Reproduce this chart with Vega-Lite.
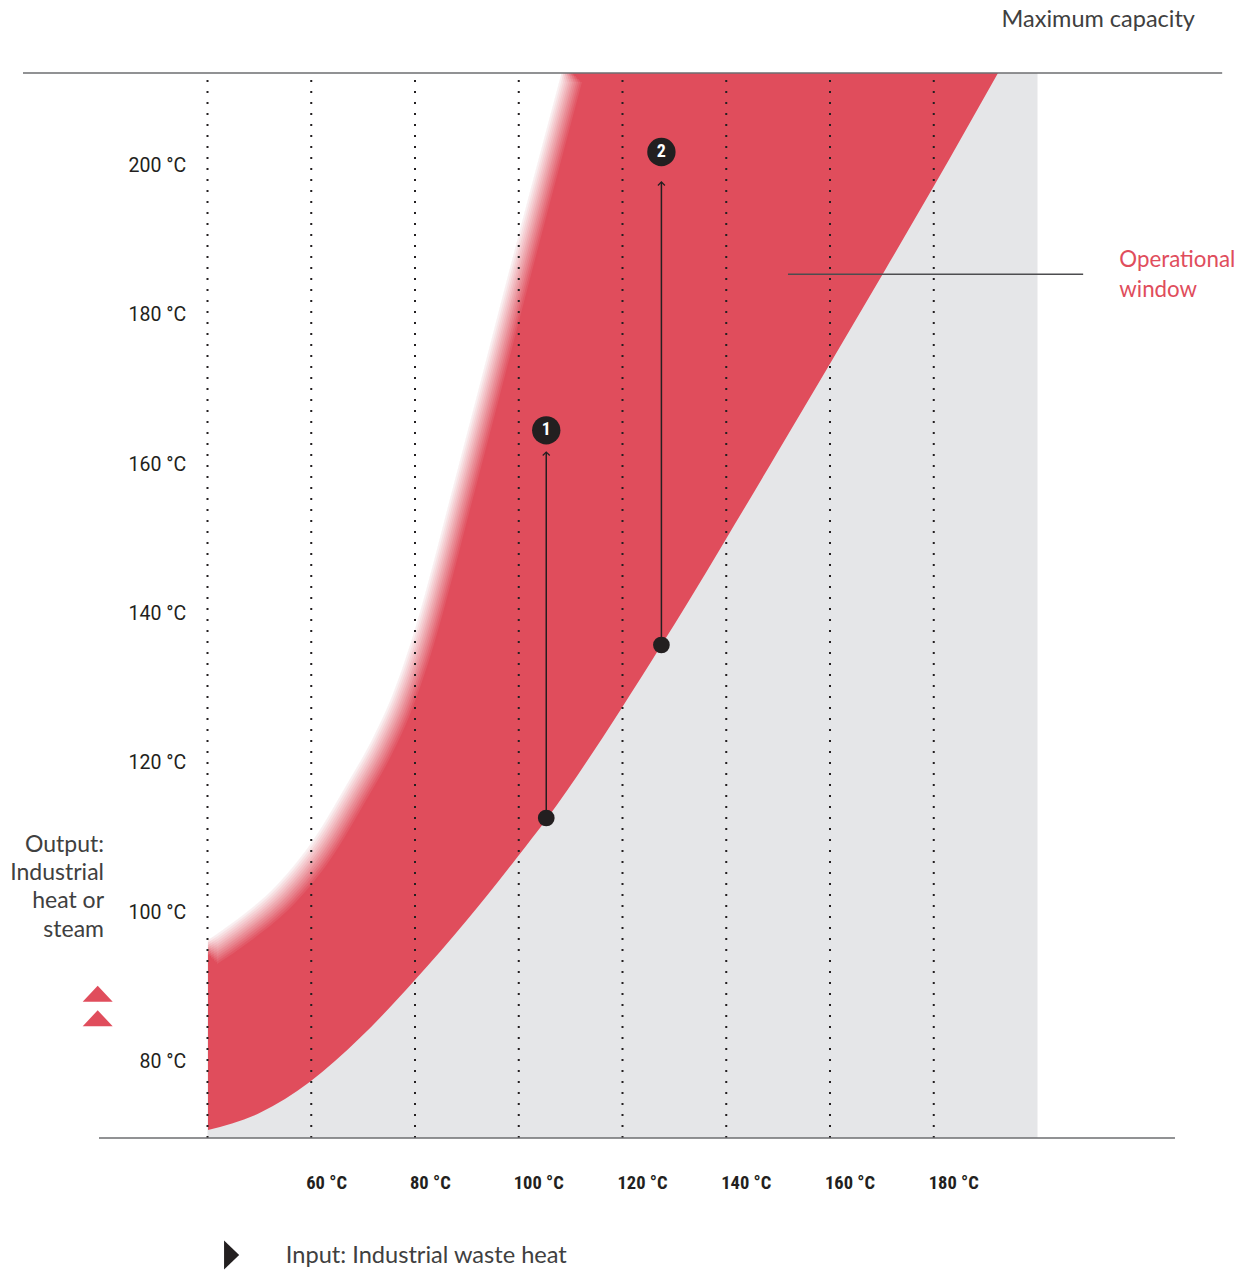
{
  "$schema": "https://vega.github.io/schema/vega-lite/v6.json",
  "width": 1245,
  "height": 1272,
  "autosize": {"type": "none"},
  "padding": 0,
  "background": "white",
  "config": {"view": {"stroke": null}},
  "datasets": {
    "lower": [
      {"x": 40.10, "y": 70.90},
      {"x": 50.12, "y": 73.20},
      {"x": 59.76, "y": 77.35},
      {"x": 69.40, "y": 83.24},
      {"x": 79.81, "y": 90.84},
      {"x": 90.02, "y": 99.01},
      {"x": 99.86, "y": 107.55},
      {"x": 105.45, "y": 112.60},
      {"x": 119.52, "y": 127.06},
      {"x": 127.42, "y": 135.74},
      {"x": 132.63, "y": 141.59},
      {"x": 139.76, "y": 149.82},
      {"x": 149.78, "y": 161.52},
      {"x": 160.00, "y": 173.52},
      {"x": 170.60, "y": 186.04},
      {"x": 179.86, "y": 197.11},
      {"x": 192.39, "y": 212.45}
    ],
    "upper": [
      {"x": 40.10, "y": 94.33},
      {"x": 46.27, "y": 97.28},
      {"x": 55.33, "y": 102.64},
      {"x": 62.27, "y": 108.66},
      {"x": 68.43, "y": 115.76},
      {"x": 73.83, "y": 122.46},
      {"x": 77.49, "y": 128.08},
      {"x": 81.93, "y": 137.19},
      {"x": 85.40, "y": 145.89},
      {"x": 88.29, "y": 153.66},
      {"x": 91.76, "y": 162.90},
      {"x": 93.88, "y": 168.53},
      {"x": 100.82, "y": 187.14},
      {"x": 110.46, "y": 212.45}
    ],
    "points": [
      {"x": 105.3, "y": 112.68, "top": 161.7, "ly": 164.6, "label": "1"},
      {"x": 127.5, "y": 135.85, "top": 197.86, "ly": 201.87, "label": "2"}
    ]
  },
  "layer": [
    {
      "data": {"values": [{"x": 40, "x2": 200, "y": 69.83, "y2": 212.45}]},
      "mark": {"type": "rect", "color": "#e5e6e8"},
      "encoding": {
        "x": {"field": "x", "type": "quantitative", "scale": {"domain": [0, 240], "nice": false, "zero": false}, "axis": null},
        "x2": {"field": "x2"},
        "y": {"field": "y", "type": "quantitative", "scale": {"domain": [51.88, 222.23], "nice": false, "zero": false}, "axis": null},
        "y2": {"field": "y2"}
      }
    },
    {
      "data": {"name": "lower"},
      "mark": {"type": "area", "interpolate": "monotone", "color": "#e04d5c", "opacity": 1},
      "encoding": {
        "x": {"field": "x", "type": "quantitative", "scale": {"domain": [0, 240], "nice": false, "zero": false}, "axis": null},
        "y": {"field": "y", "type": "quantitative", "scale": {"domain": [51.88, 222.23], "nice": false, "zero": false}, "axis": null},
        "y2": {"datum": 212.45}
      }
    },
    {
      "data": {"name": "upper"},
      "encoding": {
        "x": {"field": "x", "type": "quantitative", "scale": {"domain": [0, 240], "nice": false, "zero": false}, "axis": null},
        "y": {"field": "y", "type": "quantitative", "scale": {"domain": [51.88, 222.23], "nice": false, "zero": false}, "axis": null},
        "y2": {"datum": 212.45}
      },
      "layer": [
        {"mark": {"type": "area", "interpolate": "monotone", "color": "white", "opacity": 1, "xOffset": -9, "yOffset": -9, "y2Offset": -9}},
        {"mark": {"type": "area", "interpolate": "monotone", "color": "white", "opacity": 0.5, "xOffset": -7.5, "yOffset": -7.5, "y2Offset": -7.5}},
        {"mark": {"type": "area", "interpolate": "monotone", "color": "white", "opacity": 0.333, "xOffset": -6, "yOffset": -6, "y2Offset": -6}},
        {"mark": {"type": "area", "interpolate": "monotone", "color": "white", "opacity": 0.25, "xOffset": -4.5, "yOffset": -4.5, "y2Offset": -4.5}},
        {"mark": {"type": "area", "interpolate": "monotone", "color": "white", "opacity": 0.2, "xOffset": -3, "yOffset": -3, "y2Offset": -3}},
        {"mark": {"type": "area", "interpolate": "monotone", "color": "white", "opacity": 0.167, "xOffset": -1.5, "yOffset": -1.5, "y2Offset": -1.5}},
        {"mark": {"type": "area", "interpolate": "monotone", "color": "white", "opacity": 0.143}},
        {"mark": {"type": "area", "interpolate": "monotone", "color": "white", "opacity": 0.125, "xOffset": 1.5, "yOffset": 1.5, "y2Offset": 1.5}},
        {"mark": {"type": "area", "interpolate": "monotone", "color": "white", "opacity": 0.111, "xOffset": 3, "yOffset": 3, "y2Offset": 3}},
        {"mark": {"type": "area", "interpolate": "monotone", "color": "white", "opacity": 0.1, "xOffset": 4.5, "yOffset": 4.5, "y2Offset": 4.5}},
        {"mark": {"type": "area", "interpolate": "monotone", "color": "white", "opacity": 0.091, "xOffset": 6, "yOffset": 6, "y2Offset": 6}},
        {"mark": {"type": "area", "interpolate": "monotone", "color": "white", "opacity": 0.083, "xOffset": 7.5, "yOffset": 7.5, "y2Offset": 7.5}},
        {"mark": {"type": "area", "interpolate": "monotone", "color": "white", "opacity": 0.077, "xOffset": 9, "yOffset": 9, "y2Offset": 9}}
      ]
    },
    {
      "data": {"values": [{"x": 40}, {"x": 60}, {"x": 80}, {"x": 100}, {"x": 120}, {"x": 140}, {"x": 160}, {"x": 180}]},
      "mark": {"type": "rule", "color": "#231f20", "strokeWidth": 2, "strokeDash": [2, 9]},
      "encoding": {
        "x": {"field": "x", "type": "quantitative", "scale": {"domain": [0, 240], "nice": false, "zero": false}, "axis": null},
        "y": {"datum": 69.83, "type": "quantitative", "scale": {"domain": [51.88, 222.23], "nice": false, "zero": false}, "axis": null},
        "y2": {"datum": 212.45}
      }
    },
    {
      "data": {"values": [{"x": 4.43, "x2": 235.6, "y": 212.45}, {"x": 19.08, "x2": 226.5, "y": 69.83}]},
      "mark": {"type": "rule", "color": "#6d6e71", "strokeWidth": 1.6},
      "encoding": {
        "x": {"field": "x", "type": "quantitative", "scale": {"domain": [0, 240], "nice": false, "zero": false}, "axis": null},
        "x2": {"field": "x2"},
        "y": {"field": "y", "type": "quantitative", "scale": {"domain": [51.88, 222.23], "nice": false, "zero": false}, "axis": null}
      }
    },
    {
      "data": {"values": [{"x": 151.9, "x2": 208.8, "y": 185.5}]},
      "mark": {"type": "rule", "color": "#4d4d4f", "strokeWidth": 1.5},
      "encoding": {
        "x": {"field": "x", "type": "quantitative", "scale": {"domain": [0, 240], "nice": false, "zero": false}, "axis": null},
        "x2": {"field": "x2"},
        "y": {"field": "y", "type": "quantitative", "scale": {"domain": [51.88, 222.23], "nice": false, "zero": false}, "axis": null}
      }
    },
    {
      "data": {"name": "points"},
      "mark": {"type": "rule", "color": "#231f20", "strokeWidth": 1.5},
      "encoding": {
        "x": {"field": "x", "type": "quantitative", "scale": {"domain": [0, 240], "nice": false, "zero": false}, "axis": null},
        "y": {"field": "y", "type": "quantitative", "scale": {"domain": [51.88, 222.23], "nice": false, "zero": false}, "axis": null},
        "y2": {"field": "top"}
      }
    },
    {
      "data": {"name": "points"},
      "mark": {"type": "point", "shape": "M-1,1L0,0L1,1", "filled": false, "stroke": "#231f20", "strokeWidth": 1.2, "size": 49, "opacity": 1},
      "encoding": {
        "x": {"field": "x", "type": "quantitative", "scale": {"domain": [0, 240], "nice": false, "zero": false}, "axis": null},
        "y": {"field": "top", "type": "quantitative", "scale": {"domain": [51.88, 222.23], "nice": false, "zero": false}, "axis": null}
      }
    },
    {
      "data": {"name": "points"},
      "mark": {"type": "point", "shape": "circle", "filled": true, "color": "#231f20", "size": 280, "opacity": 1},
      "encoding": {
        "x": {"field": "x", "type": "quantitative", "scale": {"domain": [0, 240], "nice": false, "zero": false}, "axis": null},
        "y": {"field": "y", "type": "quantitative", "scale": {"domain": [51.88, 222.23], "nice": false, "zero": false}, "axis": null}
      }
    },
    {
      "data": {"name": "points"},
      "mark": {"type": "point", "shape": "circle", "filled": true, "color": "#231f20", "size": 804, "opacity": 1},
      "encoding": {
        "x": {"field": "x", "type": "quantitative", "scale": {"domain": [0, 240], "nice": false, "zero": false}, "axis": null},
        "y": {"field": "ly", "type": "quantitative", "scale": {"domain": [51.88, 222.23], "nice": false, "zero": false}, "axis": null}
      }
    },
    {
      "data": {"name": "points"},
      "mark": {"type": "text", "color": "white", "font": "Roboto Condensed, Roboto", "fontWeight": "bold", "fontSize": 18, "align": "center", "baseline": "middle"},
      "encoding": {
        "x": {"field": "x", "type": "quantitative", "scale": {"domain": [0, 240], "nice": false, "zero": false}, "axis": null},
        "y": {"field": "ly", "type": "quantitative", "scale": {"domain": [51.88, 222.23], "nice": false, "zero": false}, "axis": null},
        "text": {"field": "label"}
      }
    },
    {
      "data": {"values": [
        {"y": 200, "label": "200 °C"}, {"y": 180, "label": "180 °C"}, {"y": 160, "label": "160 °C"},
        {"y": 140, "label": "140 °C"}, {"y": 120, "label": "120 °C"}, {"y": 100, "label": "100 °C"}, {"y": 80, "label": "80 °C"}
      ]},
      "mark": {"type": "text", "color": "#231f20", "font": "Roboto", "fontSize": 19.5, "align": "right", "baseline": "middle"},
      "encoding": {
        "x": {"datum": 35.9, "type": "quantitative", "scale": {"domain": [0, 240], "nice": false, "zero": false}, "axis": null},
        "y": {"field": "y", "type": "quantitative", "scale": {"domain": [51.88, 222.23], "nice": false, "zero": false}, "axis": null},
        "text": {"field": "label"}
      }
    },
    {
      "data": {"values": [
        {"x": 60, "label": "60 °C"}, {"x": 80, "label": "80 °C"}, {"x": 100, "label": "100 °C"},
        {"x": 120, "label": "120 °C"}, {"x": 140, "label": "140 °C"}, {"x": 160, "label": "160 °C"}, {"x": 180, "label": "180 °C"}
      ]},
      "mark": {"type": "text", "color": "#231f20", "font": "Roboto Condensed, Roboto", "fontWeight": "bold", "fontSize": 18.5, "align": "left", "baseline": "middle", "dx": -5},
      "encoding": {
        "x": {"field": "x", "type": "quantitative", "scale": {"domain": [0, 240], "nice": false, "zero": false}, "axis": null},
        "y": {"datum": 63.8, "type": "quantitative", "scale": {"domain": [51.88, 222.23], "nice": false, "zero": false}, "axis": null},
        "text": {"field": "label"}
      }
    },
    {
      "data": {"values": [{"x": 230.36, "y": 218.65, "label": "Maximum capacity"}]},
      "mark": {"type": "text", "color": "#404040", "font": "Lato", "fontSize": 23.5, "align": "right", "baseline": "alphabetic"},
      "encoding": {
        "x": {"field": "x", "type": "quantitative", "scale": {"domain": [0, 240], "nice": false, "zero": false}, "axis": null},
        "y": {"field": "y", "type": "quantitative", "scale": {"domain": [51.88, 222.23], "nice": false, "zero": false}, "axis": null},
        "text": {"field": "label"}
      }
    },
    {
      "data": {"values": [{"x": 215.77, "y": 186.5, "label": "Operational\nwindow"}]},
      "mark": {"type": "text", "color": "#e04d5c", "font": "Lato", "fontSize": 22.3, "align": "left", "baseline": "alphabetic", "lineBreak": "\n", "lineHeight": 30},
      "encoding": {
        "x": {"field": "x", "type": "quantitative", "scale": {"domain": [0, 240], "nice": false, "zero": false}, "axis": null},
        "y": {"field": "y", "type": "quantitative", "scale": {"domain": [51.88, 222.23], "nice": false, "zero": false}, "axis": null},
        "text": {"field": "label"}
      }
    },
    {
      "data": {"values": [{"x": 20.05, "y": 108.17, "label": "Output:\nIndustrial\nheat or\nsteam"}]},
      "mark": {"type": "text", "color": "#404040", "font": "Lato", "fontSize": 23, "align": "right", "baseline": "alphabetic", "lineBreak": "\n", "lineHeight": 28.3},
      "encoding": {
        "x": {"field": "x", "type": "quantitative", "scale": {"domain": [0, 240], "nice": false, "zero": false}, "axis": null},
        "y": {"field": "y", "type": "quantitative", "scale": {"domain": [51.88, 222.23], "nice": false, "zero": false}, "axis": null},
        "text": {"field": "label"}
      }
    },
    {
      "data": {"values": [{"x": 55.1, "y": 53.04, "label": "Input: Industrial waste heat"}]},
      "mark": {"type": "text", "color": "#404040", "font": "Lato", "fontSize": 23.6, "align": "left", "baseline": "alphabetic"},
      "encoding": {
        "x": {"field": "x", "type": "quantitative", "scale": {"domain": [0, 240], "nice": false, "zero": false}, "axis": null},
        "y": {"field": "y", "type": "quantitative", "scale": {"domain": [51.88, 222.23], "nice": false, "zero": false}, "axis": null},
        "text": {"field": "label"}
      }
    },
    {
      "data": {"values": [{"x": 44.65, "y": 54.16}]},
      "mark": {"type": "point", "shape": "M-0.52,-1L0.52,0L-0.52,1Z", "filled": true, "color": "#231f20", "size": 841, "opacity": 1},
      "encoding": {
        "x": {"field": "x", "type": "quantitative", "scale": {"domain": [0, 240], "nice": false, "zero": false}, "axis": null},
        "y": {"field": "y", "type": "quantitative", "scale": {"domain": [51.88, 222.23], "nice": false, "zero": false}, "axis": null}
      }
    },
    {
      "data": {"values": [{"x": 18.83, "y": 89.15}, {"x": 18.83, "y": 85.86}]},
      "mark": {"type": "point", "shape": "M-1,0.533L0,-0.533L1,0.533Z", "filled": true, "color": "#e04d5c", "size": 900, "opacity": 1},
      "encoding": {
        "x": {"field": "x", "type": "quantitative", "scale": {"domain": [0, 240], "nice": false, "zero": false}, "axis": null},
        "y": {"field": "y", "type": "quantitative", "scale": {"domain": [51.88, 222.23], "nice": false, "zero": false}, "axis": null}
      }
    }
  ]
}
